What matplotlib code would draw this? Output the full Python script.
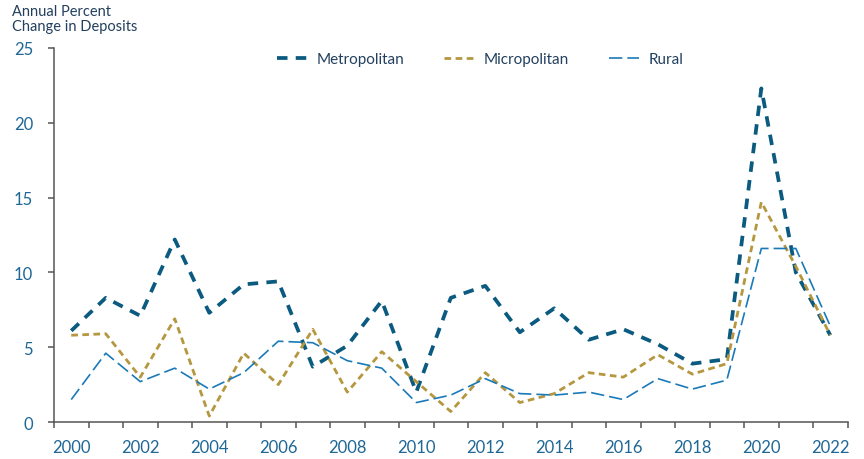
import matplotlib
matplotlib.use("Agg")
import matplotlib.pyplot as plt
import numpy as np

plt.rcParams["font.family"] = ["Lato", "DejaVu Sans"]

YEARS = list(range(2000, 2023))

METRO = [6.1, 8.3, 7.1, 12.2, 7.3, 9.2, 9.4, 3.7, 5.1, 8.1, 2.0, 8.3, 9.1,
         6.0, 7.6, 5.5, 6.2, 5.2, 3.9, 4.2, 22.3, 10.0, 5.8]
MICRO = [5.8, 5.9, 3.0, 6.9, 0.4, 4.6, 2.5, 6.2, 2.0, 4.7, 2.7, 0.7, 3.3,
         1.3, 1.9, 3.3, 3.0, 4.5, 3.2, 3.9, 14.7, 10.4, 5.8]
RURAL = [1.5, 4.6, 2.7, 3.6, 2.2, 3.3, 5.4, 5.3, 4.1, 3.6, 1.3, 1.8, 2.9,
         1.9, 1.8, 2.0, 1.5, 2.9, 2.2, 2.8, 11.6, 11.6, 6.4]

METRO_COLOR = "#0b5a80"
MICRO_COLOR = "#b5973f"
RURAL_COLOR = "#1a7ab8"
TEXT_COLOR = "#23405e"
TICK_COLOR = "#1f6795"
AXIS_COLOR = "#555555"

fig = plt.figure(figsize=(8.64, 4.6), dpi=100)
ax = fig.add_axes([0.0625, 0.0804, 0.9185, 0.8131])

x = np.arange(len(YEARS))
ax.plot(x, METRO, color=METRO_COLOR, lw=2.7, dashes=(2.8, 2.2), label="Metropolitan")
ax.plot(x, MICRO, color=MICRO_COLOR, lw=2.0, dashes=(2.4, 1.6), label="Micropolitan")
ax.plot(x, RURAL, color=RURAL_COLOR, lw=1.2, dashes=(8, 3), label="Rural")

ax.set_xlim(-0.5, len(YEARS) - 0.5)
ax.set_ylim(0, 25)
ax.set_yticks([0, 5, 10, 15, 20, 25])

ax.set_xticks(x[::2])
ax.set_xticklabels([str(y) for y in YEARS[::2]])
ax.set_xticks(np.arange(-0.5, len(YEARS)), minor=True)
ax.tick_params(axis="x", which="major", length=0, pad=12, labelsize=12, labelcolor=TICK_COLOR)
ax.tick_params(axis="x", which="minor", length=4, width=1.1, color=AXIS_COLOR, direction="out")
ax.tick_params(axis="y", length=4, width=1.1, color=AXIS_COLOR, pad=11, labelsize=12,
               labelcolor=TICK_COLOR)

for side in ("top", "right"):
    ax.spines[side].set_visible(False)
for side in ("left", "bottom"):
    ax.spines[side].set_color(AXIS_COLOR)
    ax.spines[side].set_linewidth(1.1)

fig.text(0.014, 0.99, "Annual Percent\nChange in Deposits", ha="left", va="top",
         fontsize=10.5, color=TEXT_COLOR, linespacing=1.15)

leg = ax.legend(loc="center", bbox_to_anchor=(0.537, 0.97), ncol=3, frameon=False,
                fontsize=11, handlelength=2.0, columnspacing=2.6, handletextpad=0.6)
for t in leg.get_texts():
    t.set_color(TEXT_COLOR)

fig.savefig("out.png", dpi=100)
